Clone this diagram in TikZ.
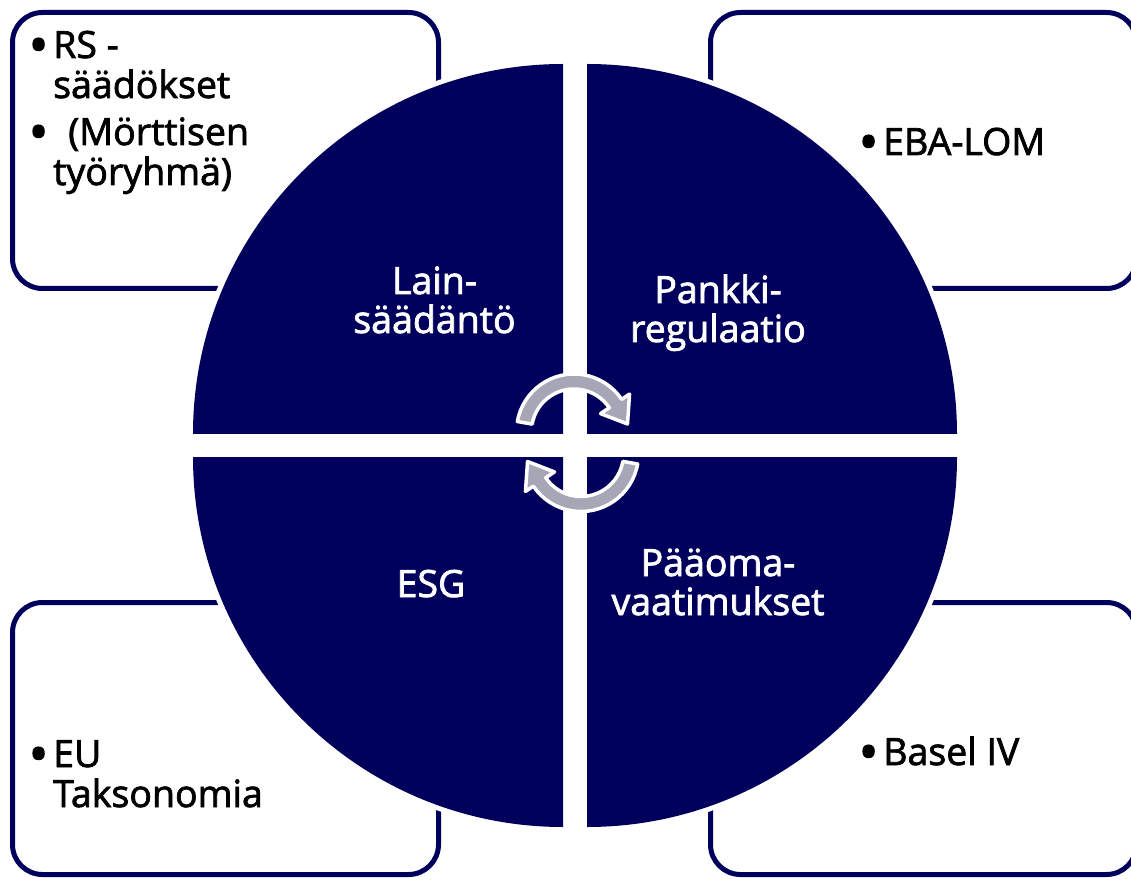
\documentclass[tikz,border=0pt]{standalone}
\usepackage{fontspec}
\setmainfont{Open Sans}[FakeBold=2]
\definecolor{navy}{RGB}{0,0,92}
\definecolor{arrowgrey}{RGB}{166,166,182}
\newcommand{\bulletmark}{\makebox[21pt][l]{\hspace*{-3.5pt}\raisebox{-5.5pt}{\scalebox{1.4}{\textbullet}}}}
\newcommand{\hangspace}{\hspace*{21pt}}
\begin{document}
\begin{tikzpicture}[x=1pt,y=1pt,
  infobox/.style={draw=navy, line width=5pt, rounded corners=30pt},
  quarterhalo/.style={draw=white, line width=10pt, line join=round},
  quarterfill/.style={fill=navy},
  seglabel/.style={text=white, font=\fontsize{37.5}{39}\selectfont, align=center, inner sep=0pt, anchor=base},
  itemtext/.style={text=black, font=\fontsize{37.5}{40}\selectfont, align=left, inner sep=0pt, anchor=base west},
  cyclearrow/.pic={
    \filldraw[fill=arrowgrey, draw=white, line width=3.5pt, line join=round]
      (170:57.5) arc[start angle=170, end angle=34, radius=57.5]
      -- (34:67) -- (8:54) -- (34:32)
      -- (34:42.5) arc[start angle=34, end angle=170, radius=42.5] -- cycle;
  }
]
\useasboundingbox (0,0) rectangle (1131,879);
\clip (0,0) rectangle (1131,879);

% outer information boxes
\draw[infobox] (12.5,590.5) rectangle (438.5,866.5);
\draw[infobox] (710.5,590.5) rectangle (1136.5,866.5);
\draw[infobox] (12.5,4.5) rectangle (438.5,276.5);
\draw[infobox] (710.5,4.5) rectangle (1136.5,276.5);

% white halos around the four quarter discs
\path[quarterhalo] (563,445) -- (563,815) arc[start angle=90, end angle=180, radius=370] -- cycle;
\path[quarterhalo] (587,445) -- (957,445) arc[start angle=0, end angle=90, radius=370] -- cycle;
\path[quarterhalo] (563,422) -- (193,422) arc[start angle=180, end angle=270, radius=370] -- cycle;
\path[quarterhalo] (587,422) -- (587,52) arc[start angle=270, end angle=360, radius=370] -- cycle;

% the four quarter discs
\path[quarterfill] (563,445) -- (563,815) arc[start angle=90, end angle=180, radius=370] -- cycle;
\path[quarterfill] (587,445) -- (957,445) arc[start angle=0, end angle=90, radius=370] -- cycle;
\path[quarterfill] (563,422) -- (193,422) arc[start angle=180, end angle=270, radius=370] -- cycle;
\path[quarterfill] (587,422) -- (587,52) arc[start angle=270, end angle=360, radius=370] -- cycle;

% quarter labels (anchored at the baseline of the last line)
\node[seglabel] (lain) at (434.5,546) {Lain-\\säädäntö};
\node[seglabel] (pankki) at (718,537) {Pankki-\\regulaatio};
\node[seglabel] (esg) at (431,282) {ESG};
\node[seglabel] (paaoma) at (718,264) {Pääoma-\\vaatimukset};

% circular arrows in the middle
\pic at (574,447.5) {cyclearrow};
\pic[rotate=180] at (581,425) {cyclearrow};

% box contents (anchored at the baseline of the last line)
\node[itemtext] (rs) at (32,694) {\bulletmark RS -\\\hangspace säädökset\\[7pt]\bulletmark\hspace{15pt}(Mörttisen\\\hangspace työryhmä)};
\node[itemtext] (eba) at (862,724) {\bulletmark EBA-LOM};
\node[itemtext] (eu) at (32,72) {\bulletmark EU\\\hangspace Taksonomia};
\node[itemtext] (basel) at (862,114) {\bulletmark Basel IV};
\end{tikzpicture}
\end{document}
